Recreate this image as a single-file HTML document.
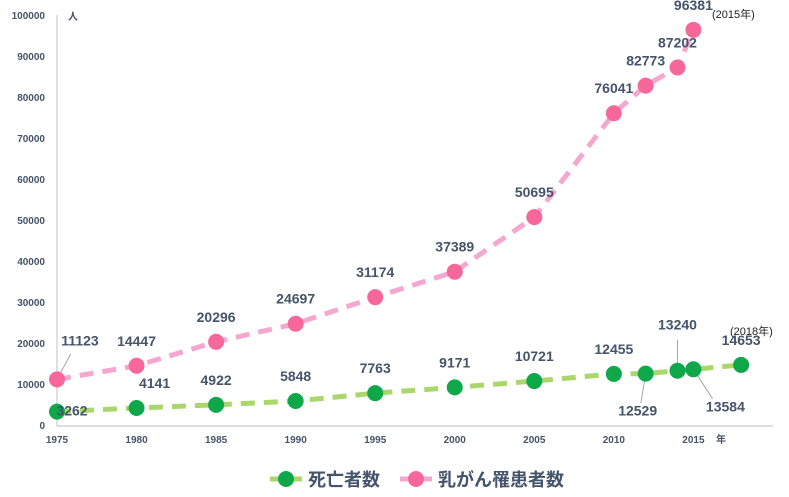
<!DOCTYPE html>
<html><head><meta charset="utf-8"><style>
body{margin:0;background:#fff;}
svg{display:block;font-family:"Liberation Sans","Noto Sans CJK JP",sans-serif;}
.tick{font-size:10px;font-weight:bold;fill:#44546a;}
.lbl{font-size:14px;font-weight:bold;fill:#44546a;}
</style></head><body>
<svg id="chart" width="789" height="497"></svg>
<script>
const yTicks=[0,10000,20000,30000,40000,50000,60000,70000,80000,90000,100000];
const xTicks=[1975,1980,1985,1990,1995,2000,2005,2010,2015];
const pinkYears=[1975,1980,1985,1990,1995,2000,2005,2010,2012,2014,2015];
const pinkValues=[11123,14447,20296,24697,31174,37389,50695,76041,82773,87202,96381];
const greenYears=[1975,1980,1985,1990,1995,2000,2005,2010,2012,2014,2015,2018];
const greenValues=[3262,4141,4922,5848,7763,9171,10721,12455,12529,13240,13584,14653];
// label offsets (styling only)
const pinkOff=[[23,-34],[0,-20],[0,-20],[0,-20],[0,-20],[0,-20],[0,-20],[0,-20],[0,-20],[0,-20],[0,-20]];
const greenOff=[[15,4],[18,-20],[0,-20],[0,-20],[0,-20],[0,-20],[0,-20],[0,-20],[-8,42],[0,-41],[32,42],[0,-20]];
const NS="http://www.w3.org/2000/svg";
const svg=document.getElementById('chart');
const x=v=>57+(v-1975)*15.91;
const y=v=>425-v*0.0041;
function mk(t,a,p){const e=document.createElementNS(NS,t);for(const k in a)e.setAttribute(k,a[k]);(p||svg).appendChild(e);return e;}
let ax=mk('line',{x1:57,y1:15,x2:57,y2:426,stroke:'#bfbfbf'});


let bx=mk('line',{x1:57,y1:426,x2:773,y2:426,stroke:'#bfbfbf'});


yTicks.forEach(t=>{const e=mk('text',{x:45,y:y(t)+4,'text-anchor':'end',class:'tick'});e.textContent=t;

});
xTicks.forEach(t=>{const e=mk('text',{x:x(t),y:443,'text-anchor':'middle',class:'tick'});e.textContent=t;

});
let u1=mk('text',{x:68,y:20,class:'tick','font-size':'12'});u1.textContent='人';


let u2=mk('text',{x:716,y:443,class:'tick','font-size':'12'});u2.textContent='年';


function series(years,vals,off,lineC,dotC,name){
 const pts=years.map((yr,i)=>[x(yr),y(vals[i])]);
 const p=mk('polyline',{points:pts.map(q=>q.join(',')).join(' '),fill:'none',stroke:lineC,'stroke-width':5,'stroke-dasharray':'14 9'});
 
 
 pts.forEach((q,i)=>{
  const o=off[i];
  if(Math.abs(o[1])>30||o[0]>20){const l=mk('line',{x1:q[0],y1:q[1],x2:q[0]+o[0]*0.6,y2:q[1]+o[1]*(o[1]>0?0.7:0.75),stroke:'#a6a6a6','stroke-width':1});
   
   }
 });
 pts.forEach((q,i)=>{
  const c=mk('circle',{cx:q[0],cy:q[1],r:8,fill:dotC});
  
  
 });
 pts.forEach((q,i)=>{
  const o=off[i];
  const t=mk('text',{x:q[0]+o[0],y:q[1]+o[1],'text-anchor':'middle',class:'lbl'});t.textContent=vals[i];
  
  
 });
}
series(greenYears,greenValues,greenOff,'#a9d76b','#0ea84a','deaths');
series(pinkYears,pinkValues,pinkOff,'#f4a8cf','#f7679a','patients');
let n1=mk('text',{x:712,y:18,'font-size':'11',fill:'#222'});n1.textContent='(2015年)';


let n2=mk('text',{x:730,y:335,'font-size':'11',fill:'#222'});n2.textContent='(2018年)';


// legend
const lg=mk('g',{});


const items=[['死亡者数','#a9d76b','#0ea84a',270],['乳がん罹患者数','#f4a8cf','#f7679a',400]];
items.forEach(it=>{
 const g=mk('g',{},lg);
 
 
 mk('line',{x1:it[3],y1:479,x2:it[3]+32,y2:479,stroke:it[1],'stroke-width':5},g);
 mk('circle',{cx:it[3]+16,cy:479,r:8,fill:it[2]},g);
 const t=mk('text',{x:it[3]+38,y:486,'font-size':'18','font-weight':'bold',fill:'#44546a'},g);t.textContent=it[0];
});
</script>
</body></html>
